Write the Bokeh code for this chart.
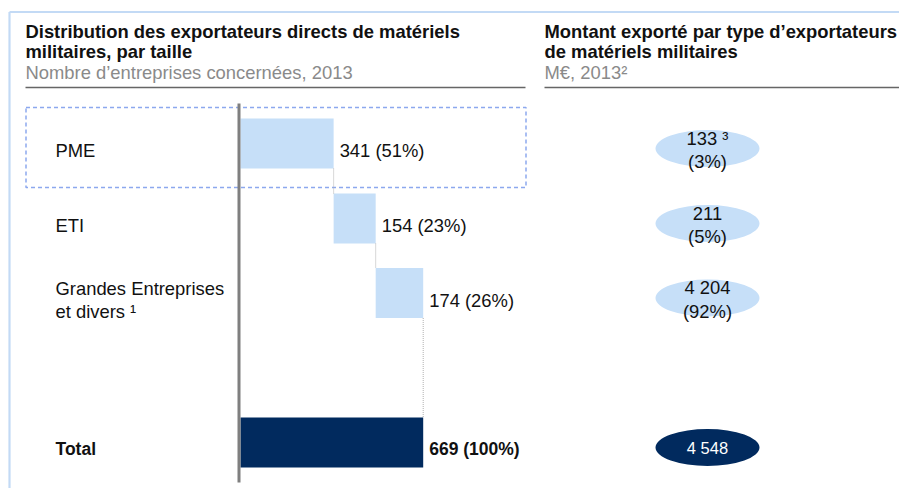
from bokeh.plotting import figure
from bokeh.models import Range1d, Label
from bokeh.core.properties import value
from bokeh.embed import file_html
from bokeh.resources import INLINE

# ---------------- data ----------------
categories = ["PME", "ETI", "Grandes Entreprises\net divers \u00b9", "Total"]
counts = [341, 154, 174]
count_total = 669
count_pct = [51, 23, 26, 100]
amounts = [133, 211, 4204, 4548]
amount_pct = [3, 5, 92]
amount_notes = ["\u00b3", "", ""]

FONT = "Liberation Sans"
FS = "18.4px"
LIGHT = "#C6DFF8"
DARK = "#012A5E"

W, H = 899, 488
p = figure(width=W, height=H, output_backend="svg", toolbar_location=None,
           x_range=Range1d(0, W), y_range=Range1d(H, 0),
           x_axis_location=None, y_axis_location=None, min_border=0)
p.outline_line_color = None
p.grid.visible = False
p.background_fill_color = "white"
p.border_fill_color = "white"

# count scale: 0 at x=240, total at x=422.7
zero_px, total_px = 240.0, 422.7
ppu = (total_px - zero_px) / count_total
p.extra_x_ranges = {"count": Range1d(-zero_px / ppu, -zero_px / ppu + W / ppu)}

# layout (pixel coordinates)
row_y = [143, 218, 292.5, 442]
bar_h = 50

# frame decorations
p.segment(x0=[9, 9], y0=[11.5, 11.5], x1=[899, 9], y1=[11.5, 490], line_color="#C3DAF5", line_width=2.2)
p.segment(x0=[25, 544], y0=[87, 87], x1=[525, 899], y1=[87, 87], line_color="#666666", line_width=1.6)

# dashed highlight box around PME
p.quad(left=25.5, right=525.5, top=107, bottom=187, fill_color=None,
       line_color="#8CA8EE", line_width=1.5, line_dash="4 3")

# waterfall bars
starts, ends = [], []
acc = 0
for v in counts:
    starts.append(acc)
    acc += v
    ends.append(acc)
starts.append(0)
ends.append(count_total)
colors = [LIGHT, LIGHT, LIGHT, DARK]
p.hbar(y=row_y, left=starts, right=ends, height=bar_h, fill_color=colors,
       line_color=None, x_range_name="count")

# dotted connectors
cx = ends[:3]
cy0 = [row_y[i] + bar_h / 2 for i in range(3)]
cy1 = [row_y[i + 1] - bar_h / 2 for i in range(3)]
p.segment(x0=cx, y0=cy0, x1=cx, y1=cy1, line_color="#B0B0B0", line_width=1,
          line_dash="1 1", x_range_name="count")

# zero axis line
p.segment(x0=[238.5], y0=[103], x1=[238.5], y1=[482], line_color="#7F7F7F", line_width=3)

# value labels
vals = counts + [count_total]
labels = [f"{v} ({pc}%)" for v, pc in zip(vals, count_pct)]
p.text(x=ends[:3], y=[y + 7 for y in row_y[:3]], text=labels[:3], x_offset=6,
       text_baseline="middle", text_font=value(FONT), text_font_size=FS,
       text_color="#111111", x_range_name="count")
p.text(x=[ends[3]], y=[row_y[3] + 6], text=[labels[3]], x_offset=6,
       text_baseline="middle", text_font=value(FONT),
       text_font_size="17.5px", text_font_style="bold", text_color="#111111",
       x_range_name="count")

# category labels
p.text(x=[55] * 3, y=[y + 7 for y in row_y[:3]], text=categories[:3],
       text_baseline="middle", text_font=value(FONT), text_font_size=FS,
       text_color="#111111", text_line_height=1.1)
p.text(x=[55], y=[row_y[3] + 6], text=[categories[3]], text_baseline="middle",
       text_font=value(FONT), text_font_size="17.5px", text_font_style="bold",
       text_color="#111111")

# ellipses with amounts
ell_y = [y + 5 for y in row_y]
ell_col = [LIGHT, LIGHT, LIGHT, DARK]
p.ellipse(x=[707] * 4, y=ell_y, width=104, height=37, fill_color=ell_col, line_color=None)

def fmt(n):
    return f"{n:,}".replace(",", " ")

amt_text = [f"{fmt(a)}{(' ' + nt) if nt else ''}\n({pc}%)"
            for a, pc, nt in zip(amounts[:3], amount_pct, amount_notes)]
p.text(x=[707] * 3, y=[y + 1.5 for y in ell_y[:3]], text=amt_text, text_align="center",
       text_baseline="middle", text_font=value(FONT), text_font_size=FS,
       text_color="#111111", text_line_height=1.12)
p.text(x=[707], y=[ell_y[3]], text=[fmt(amounts[3])], text_align="center",
       text_baseline="middle", text_font=value(FONT),
       text_font_size="16.5px", text_color="white")

# headers
def lab(x, y, t, size=FS, bold=True, color="#111111"):
    p.add_layout(Label(x=x, y=y, text=t, text_font=FONT, text_font_size=size,
                       text_font_style="bold" if bold else "normal",
                       text_color=color, text_baseline="alphabetic"))

lab(25, 30.5, "Distribution des exportateurs directs de matériels")
lab(25, 51, "militaires, par taille")
lab(25, 72, "Nombre d\u2019entreprises concernées, 2013", bold=False, color="#8A8A8A")
lab(544, 30.5, "Montant exporté par type d\u2019exportateurs")
lab(544, 51, "de matériels militaires")
lab(544, 72, "M\u20ac, 2013\u00b2", bold=False, color="#8A8A8A")

open("out.html", "w").write(file_html(p, INLINE))
